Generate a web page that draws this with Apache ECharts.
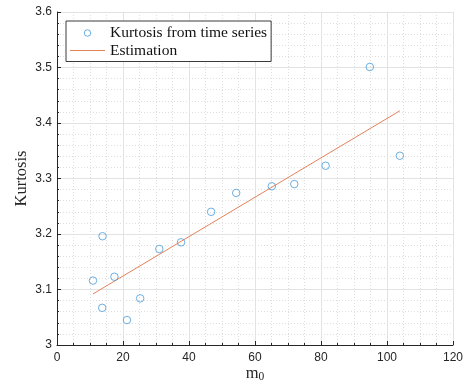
<!DOCTYPE html>
<html>
<head>
<meta charset="utf-8">
<script src="https://cdn.jsdelivr.net/npm/echarts@6/dist/echarts.min.js"></script>
<style>
  html, body { margin: 0; padding: 0; background: #fff; }
  #chart { width: 468px; height: 385px; }
</style>
</head>
<body>
<div id="chart"></div>
<script>
// Sample kurtosis measured from each time series, against m0
const m0Values = [10.9, 13.8, 13.7, 17.4, 21.2, 25.2, 31.0, 37.6, 46.7, 54.3, 65.1, 71.9, 81.4, 94.8, 103.9];
const kurtosisValues = [3.116, 3.196, 3.067, 3.123, 3.045, 3.084, 3.173, 3.185, 3.240, 3.274, 3.286, 3.290, 3.323, 3.501, 3.341];

// Fitted estimation line end points
const estimationX = [10.9, 103.9];
const estimationY = [3.092, 3.422];

const seriesNames = ['Kurtosis from time series', 'Estimation'];

const axisColor = '#262626';
const markerColor = '#4A9BD8';
const lineColor = '#E4825A';
const serif = '"Liberation Serif", "DejaVu Serif", serif';
const sans = '"Liberation Sans", Arial, sans-serif';

const scatterData = m0Values.map((x, i) => [x, kurtosisValues[i]]);
const lineData = estimationX.map((x, i) => [x, estimationY[i]]);

const axisCommon = {
  axisLine: { show: true, lineStyle: { color: axisColor, width: 1 } },
  axisTick: { show: true, inside: true, length: 4, lineStyle: { color: axisColor } },
  minorTick: { show: true, length: 2, lineStyle: { color: axisColor } },
  splitLine: { show: true, lineStyle: { color: '#e3e3e3', width: 1 } },
  minorSplitLine: { show: true, lineStyle: { color: '#dedede', width: 1, type: [1, 2] } },
  axisLabel: { color: axisColor, fontFamily: sans, fontSize: 12 }
};

const chart = echarts.init(document.getElementById('chart'), null, { renderer: 'canvas' });
chart.setOption({
  animation: false,
  backgroundColor: '#fff',
  grid: { left: 57, right: 15, top: 12, bottom: 40, containLabel: false, outerBoundsMode: 'none' },
  xAxis: Object.assign({}, axisCommon, {
    type: 'value', min: 0, max: 120, interval: 20,
    minorTick: Object.assign({}, axisCommon.minorTick, { splitNumber: 4 }),
    axisLabel: Object.assign({}, axisCommon.axisLabel, { margin: 7 }),
    name: '{m|m}{s|0}', nameLocation: 'middle', nameGap: 20, nameMoveOverlap: false,
    nameTextStyle: {
      rich: {
        m: { fontFamily: serif, fontSize: 16.5, color: axisColor },
        s: { fontFamily: serif, fontSize: 11.5, color: axisColor, verticalAlign: 'bottom', padding: [6, 0, 0, 0] }
      }
    }
  }),
  yAxis: Object.assign({}, axisCommon, {
    type: 'value', min: 3, max: 3.6, interval: 0.1,
    minorTick: Object.assign({}, axisCommon.minorTick, { splitNumber: 5 }),
    axisLabel: Object.assign({}, axisCommon.axisLabel, { margin: 5, formatter: v => (Math.round(v * 10) / 10).toString() }),
    name: 'Kurtosis', nameLocation: 'middle', nameGap: 27, nameMoveOverlap: false,
    nameTextStyle: { fontFamily: serif, fontSize: 16.5, color: axisColor }
  }),
  legend: {
    orient: 'vertical', left: 66, top: 21,
    padding: [4, 4, 3, 4],
    itemWidth: 35, itemHeight: 6.5, itemGap: 1.5,
    backgroundColor: '#fff', borderColor: '#3a3a3a', borderWidth: 1,
    textStyle: { fontFamily: serif, fontSize: 15.5, color: '#111', lineHeight: 16 },
    data: [
      { name: seriesNames[0], icon: 'circle', itemStyle: { color: 'rgba(255,255,255,0)', borderColor: markerColor, borderWidth: 1 } },
      { name: seriesNames[1], icon: 'path://M0,0L35,0L35,1L0,1Z', itemStyle: { color: lineColor, borderWidth: 0 } }
    ]
  },
  series: [
    {
      name: seriesNames[1], type: 'line', data: lineData,
      symbol: 'none', z: 2,
      lineStyle: { color: lineColor, width: 1 },
      itemStyle: { color: lineColor }
    },
    {
      name: seriesNames[0], type: 'scatter', data: scatterData,
      symbol: 'circle', symbolSize: 7.5, z: 3,
      itemStyle: { color: 'rgba(255,255,255,0)', borderColor: markerColor, borderWidth: 1 }
    }
  ]
});
</script>
</body>
</html>
